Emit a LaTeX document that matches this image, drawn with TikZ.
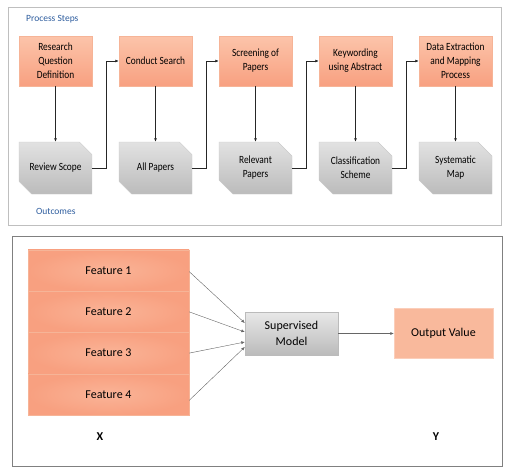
\documentclass[tikz,border=0pt]{standalone}
\usepackage{fontspec}
\setmainfont{Carlito}
\newfontfamily\narrowfont[FakeStretch=0.85]{Carlito}
\usetikzlibrary{shapes.misc,arrows.meta,positioning}
\definecolor{steptop}{HTML}{FCC4AA}
\definecolor{stepbot}{HTML}{F8A080}
\definecolor{stepline}{HTML}{F6B497}
\definecolor{outtop}{HTML}{E2E2E2}
\definecolor{outbot}{HTML}{BBBBBB}
\definecolor{labelblue}{HTML}{2E5D9E}
\definecolor{valfill}{HTML}{F9B99C}
\begin{document}
\begin{tikzpicture}[x=1pt,y=-1pt,
            stepbox/.style={rectangle,draw=stepline,top color=steptop,bottom color=stepbot,minimum width=73pt,minimum height=50pt,inner sep=1pt,align=center,font=\narrowfont\fontsize{11}{14}\selectfont},
            outbox/.style={chamfered rectangle,chamfered rectangle corners={north east,south west},chamfered rectangle sep=7pt,draw=outbot!80,top color=outtop,bottom color=outbot,minimum width=73pt,minimum height=52pt,inner sep=1pt,align=center,font=\narrowfont\fontsize{11}{14}\selectfont},
            featbox/.style={rectangle,draw=stepline,inner color=steptop!55!stepbot,outer color=stepbot,minimum width=161pt,minimum height=41.25pt,font=\fontsize{12}{15}\selectfont},
            modelbox/.style={rectangle,draw=outbot,top color=outtop!80!white,bottom color=outbot,minimum width=93pt,minimum height=43pt,align=center,font=\fontsize{12}{15.5}\selectfont},
            valbox/.style={rectangle,draw=valfill!70!white,fill=valfill,minimum width=99pt,minimum height=50pt,font=\fontsize{12}{15}\selectfont},
            tag/.style={text=labelblue,font=\fontsize{9.5}{11}\selectfont,anchor=west,inner sep=0pt},
            axis/.style={font=\bfseries\fontsize{12}{14}\selectfont},
            flow/.style={-{Latex[length=3.5pt,width=3pt]},thick,black!85},
            thinflow/.style={-{Latex[length=3.5pt,width=3pt]},gray!80!black},
            node distance=100pt
        ]
            \useasboundingbox (0,0) rectangle (512,472);

            % process steps and outcomes
            \draw[black!25] (8,7) rectangle (501,225);
            \node[tag] (steps) at (26,19) {Process Steps};
            \node[tag] (outc) at (36,211) {Outcomes};

            \node[stepbox] (rq) at (55.5,61) {Research\\Question\\Definition};
            \node[stepbox,right of=rq] (cs) {Conduct Search};
            \node[stepbox,right of=cs] (sp) {Screening of\\Papers};
            \node[stepbox,right of=sp] (ka) {Keywording\\using Abstract};
            \node[stepbox,right of=ka] (de) {Data Extraction\\and Mapping\\Process};

            \node[outbox,node distance=107pt,below of=rq] (rs) {Review Scope};
            \node[outbox,node distance=107pt,below of=cs] (ap) {All Papers};
            \node[outbox,node distance=107pt,below of=sp] (rp) {Relevant\\Papers};
            \node[outbox,node distance=107pt,below of=ka] (cl) {Classification\\Scheme};
            \node[outbox,node distance=107pt,below of=de] (sm2) {Systematic\\Map};

            \draw[flow] (rq) -- (rs);
            \draw[flow] (cs) -- (ap);
            \draw[flow] (sp) -- (rp);
            \draw[flow] (ka) -- (cl);
            \draw[flow] (de) -- (sm2);

            \draw[flow] (rs.east) -- ++(14,0) |- (cs.west);
            \draw[flow] (ap.east) -- ++(14,0) |- (sp.west);
            \draw[flow] (rp.east) -- ++(14,0) |- (ka.west);
            \draw[flow] (cl.east) -- ++(14,0) |- (de.west);

            % supervised learning
            \draw[black!50] (12,236) rectangle (502,466);
            \node[featbox] (f1) at (108.5,270.6) {Feature 1};
            \node[featbox,node distance=41.25pt,below of=f1] (f2) {Feature 2};
            \node[featbox,node distance=41.25pt,below of=f2] (f3) {Feature 3};
            \node[featbox,node distance=41.25pt,below of=f3] (f4) {Feature 4};

            \node[modelbox] (sm) at (291.5,333.5) {Supervised\\Model};
            \node[valbox,node distance=152pt,right of=sm] (ov) {Output Value};

            \draw[thinflow] ([yshift=-1pt]f1.east) -- ([yshift=10.5pt]sm.west);
            \draw[thinflow] (f2.east) -- ([yshift=1.5pt]sm.west);
            \draw[thinflow] (f3.east) -- ([yshift=-8.5pt]sm.west);
            \draw[thinflow] ([yshift=-6pt]f4.east) -- ([yshift=-13.5pt]sm.west);
            \draw[thinflow] (sm) -- (ov);

            \node[axis] (xl) at (100,437) {X};
            \node[axis] (yl) at (436,437) {Y};
        \end{tikzpicture}
\end{document}
